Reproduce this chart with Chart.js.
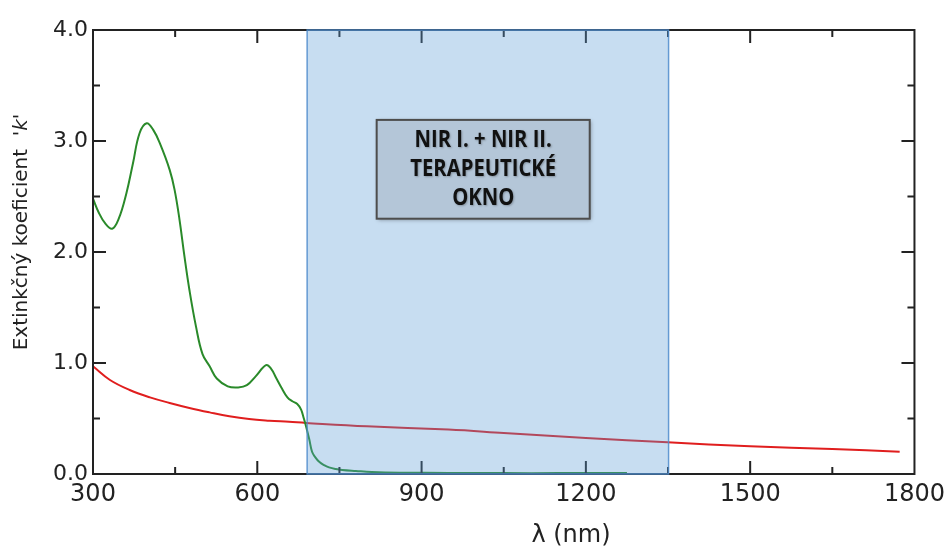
<!DOCTYPE html>
<html>
<head>
<meta charset="utf-8">
<script src="https://cdn.jsdelivr.net/npm/chart.js@4.4.1/dist/chart.umd.min.js"></script>
<style>
  html, body { margin: 0; padding: 0; background: #fff; }
  #wrap { width: 951px; height: 550px; }
</style>
</head>
<body>
<div id="wrap"><canvas id="chart"></canvas></div>
<script>
// Wavelength (nm) and extinction coefficient k
const greenLambda = [300, 310, 322, 335, 347, 361, 373, 385, 398, 410, 422, 440, 449, 458, 467, 476, 488, 500, 513, 526, 546, 565, 581, 597, 616, 625, 634, 645, 655, 664, 673, 680, 685, 689, 695, 700, 706, 713, 722, 731, 743, 755, 780, 809, 860, 950, 1050, 1150, 1275];
const greenK      = [2.48, 2.36, 2.26, 2.21, 2.30, 2.53, 2.80, 3.07, 3.16, 3.10, 2.98, 2.74, 2.56, 2.29, 1.96, 1.66, 1.33, 1.08, 0.97, 0.86, 0.79, 0.78, 0.80, 0.88, 0.98, 0.95, 0.87, 0.77, 0.69, 0.655, 0.63, 0.58, 0.50, 0.43, 0.31, 0.20, 0.15, 0.11, 0.08, 0.06, 0.045, 0.036, 0.027, 0.018, 0.012, 0.01, 0.008, 0.008, 0.008];

const redLambda = [300, 331, 367, 404, 440, 476, 513, 549, 585, 622, 658, 689, 800, 949, 1050, 1200, 1349, 1500, 1650, 1773];
const redK      = [0.97, 0.847, 0.757, 0.69, 0.64, 0.595, 0.555, 0.52, 0.495, 0.48, 0.47, 0.46, 0.43, 0.40, 0.37, 0.325, 0.285, 0.25, 0.225, 0.20];

// NIR window and label box (nm / k)
const nirWindow = [691, 1351];
const boxRange = { x: [818, 1207], y: [2.30, 3.19] };
const boxLines = ['NIR I. + NIR II.', 'TERAPEUTICKÉ', 'OKNO'];

const toPoints = (xs, ys) => xs.map((x, i) => ({ x: x, y: ys[i] }));

const FONT = '"DejaVu Sans", sans-serif';
const INK = '#222';

// frame, inward ticks, titles, shaded window, text box
const decor = {
  id: 'decor',
  afterDatasetsDraw(chart) {
    const c = chart.ctx, a = chart.chartArea;
    const xs = chart.scales.x, ys = chart.scales.y;
    c.save();
    // frame
    c.strokeStyle = INK;
    c.lineWidth = 2;
    c.strokeRect(a.left, a.top, a.right - a.left, a.bottom - a.top);
    // inward ticks
    c.beginPath();
    for (let v = 450; v < 1800; v += 150) {
      const px = xs.getPixelForValue(v);
      const len = v % 300 === 0 ? 13 : 7;
      c.moveTo(px, a.bottom); c.lineTo(px, a.bottom - len);
      c.moveTo(px, a.top); c.lineTo(px, a.top + len);
    }
    for (let v = 0.5; v < 4; v += 0.5) {
      const py = ys.getPixelForValue(v);
      const len = Number.isInteger(v) ? 13 : 7;
      c.moveTo(a.left, py); c.lineTo(a.left + len, py);
      c.moveTo(a.right, py); c.lineTo(a.right - len, py);
    }
    c.stroke();

    // shaded NIR window
    const x0 = xs.getPixelForValue(nirWindow[0]);
    const x1 = xs.getPixelForValue(nirWindow[1]);
    c.fillStyle = 'rgba(91,155,213,0.34)';
    c.fillRect(x0, a.top, x1 - x0, a.bottom - a.top);
    c.strokeStyle = 'rgba(79,140,205,0.85)';
    c.lineWidth = 1.5;
    c.strokeRect(x0, a.top, x1 - x0, a.bottom - a.top);

    // label box
    const bx0 = xs.getPixelForValue(boxRange.x[0]);
    const bx1 = xs.getPixelForValue(boxRange.x[1]);
    const by0 = ys.getPixelForValue(boxRange.y[1]);
    const by1 = ys.getPixelForValue(boxRange.y[0]);
    c.shadowColor = 'rgba(0,0,0,0.35)';
    c.shadowBlur = 4;
    c.shadowOffsetX = 1;
    c.shadowOffsetY = 1;
    c.fillStyle = '#b4c6d8';
    c.fillRect(bx0, by0, bx1 - bx0, by1 - by0);
    c.shadowColor = 'transparent';
    c.strokeStyle = '#4d4d4d';
    c.lineWidth = 2;
    c.strokeRect(bx0, by0, bx1 - bx0, by1 - by0);
    // bold, slightly condensed label text
    const cx = (bx0 + bx1) / 2;
    c.save();
    c.translate(cx, by0);
    c.scale(0.88, 1);
    c.fillStyle = '#111';
    c.font = 'bold 23px "Open Sans", sans-serif';
    c.textAlign = 'center';
    c.textBaseline = 'middle';
    c.shadowColor = 'rgba(0,0,0,0.25)';
    c.shadowBlur = 2;
    boxLines.forEach((t, i) => c.fillText(t, 0, 21 + i * 29));
    c.restore();

    // axis titles
    c.fillStyle = INK;
    c.font = '24px ' + FONT;
    c.textAlign = 'center';
    c.textBaseline = 'middle';
    c.fillText('λ (nm)', 571, 536);

    c.translate(22, 232);
    c.rotate(-Math.PI / 2);
    const parts = [
      ['20px ' + FONT, "Extinkčný koeficient  '"],
      ['italic 20px ' + FONT, 'k'],
      ['20px ' + FONT, "'"]
    ];
    let total = 0;
    parts.forEach(p => { c.font = p[0]; total += c.measureText(p[1]).width; });
    let pos = -total / 2;
    c.textAlign = 'left';
    parts.forEach(p => { c.font = p[0]; c.fillText(p[1], pos, 0); pos += c.measureText(p[1]).width; });
    c.restore();
  }
};

new Chart(document.getElementById('chart'), {
  type: 'line',
  data: {
    datasets: [
      {
        label: 'green',
        data: toPoints(greenLambda, greenK),
        borderColor: '#2a8a2a',
        borderWidth: 2,
        pointRadius: 0,
        tension: 0.4
      },
      {
        label: 'red',
        data: toPoints(redLambda, redK),
        borderColor: '#e01e1e',
        borderWidth: 2,
        pointRadius: 0,
        tension: 0.4
      }
    ]
  },
  options: {
    responsive: true,
    maintainAspectRatio: false,
    animation: false,
    layout: { padding: { top: 30, right: 33, left: 0, bottom: 0 } },
    plugins: { legend: { display: false }, tooltip: { enabled: false } },
    scales: {
      x: {
        type: 'linear',
        min: 300, max: 1800,
        grid: { display: false, drawTicks: false },
        border: { display: false },
        ticks: { stepSize: 300, color: INK, font: { size: 24, family: FONT }, padding: 6, maxRotation: 0, callback: v => String(v) },
        afterFit: s => { s.height = 76; }
      },
      y: {
        min: 0, max: 4,
        grid: { display: false, drawTicks: false },
        border: { display: false },
        ticks: { stepSize: 1, color: INK, font: { size: 22, family: FONT }, padding: 5, callback: v => v.toFixed(1) },
        afterFit: s => { s.width = 93; }
      }
    }
  },
  plugins: [decor]
});
</script>
</body>
</html>
